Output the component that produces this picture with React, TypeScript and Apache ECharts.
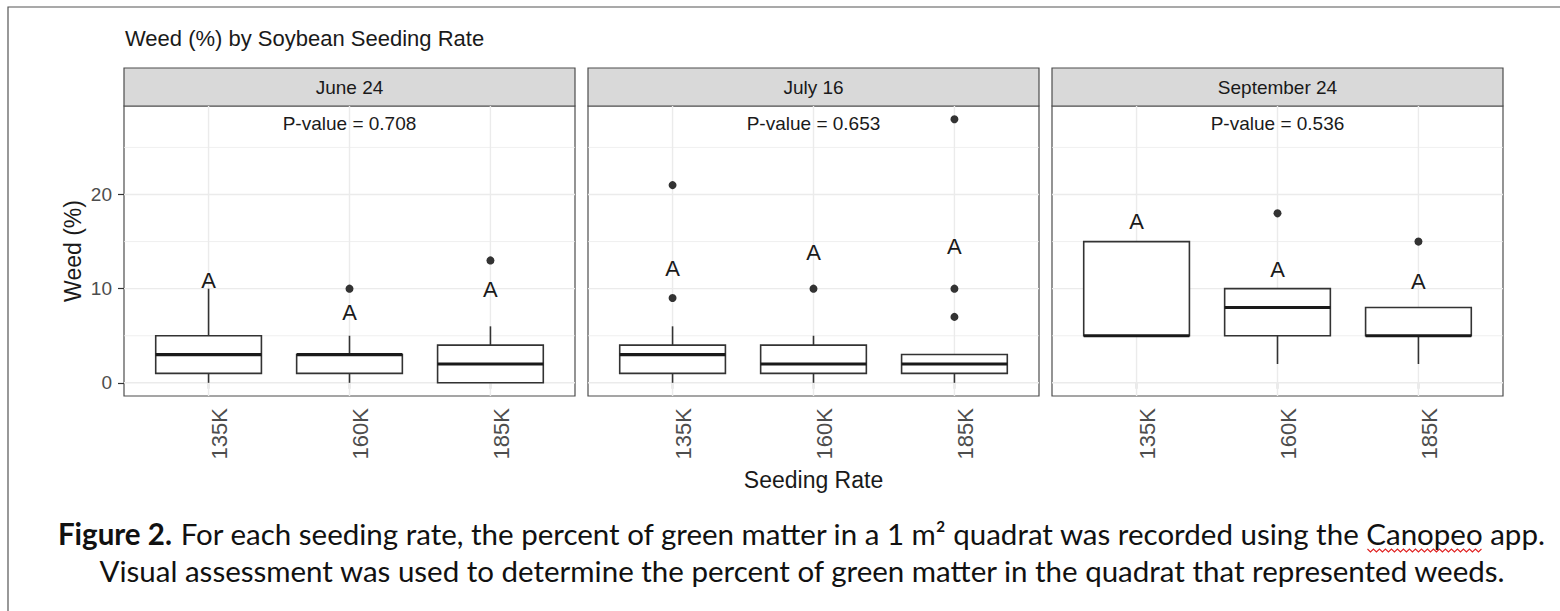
import React, { useEffect, useRef } from "react";
import * as echarts from "echarts";

// ---------------- data ----------------
const TITLE = "Weed (%) by Soybean Seeding Rate";
const PANEL_TITLES = ["June 24", "July 16", "September 24"];
const RATES = ["135K", "160K", "185K"];
const P_VALUES = ["0.708", "0.653", "0.536"];
const P_LABEL_Y = 27.5;
const Y_TICKS = [0, 10, 20];
const Y_MINOR = [5, 15, 25];
const Y_TITLE = "Weed (%)";
const X_TITLE = "Seeding Rate";

// [lower whisker, Q1, median, Q3, upper whisker]
const JUNE_BOXES = [
  [0, 1, 3, 5, 10],
  [0, 1, 3, 3, 5],
  [0, 0, 2, 4, 6],
];
const JULY_BOXES = [
  [0, 1, 3, 4, 6],
  [0, 1, 2, 4, 5],
  [0, 1, 2, 3, 3],
];
const SEPT_BOXES = [
  [5, 5, 5, 15, 15],
  [2, 5, 8, 10, 10],
  [2, 5, 5, 8, 8],
];

const JUNE_OUTLIERS = [[], [10], [13]];
const JULY_OUTLIERS = [[9, 21], [10], [7, 10, 28]];
const SEPT_OUTLIERS = [[], [18], [15]];

const JUNE_LETTERS = ["A", "A", "A"];
const JULY_LETTERS = ["A", "A", "A"];
const SEPT_LETTERS = ["A", "A", "A"];
const JUNE_LETTER_Y = [10.9, 7.5, 9.9];
const JULY_LETTER_Y = [12.1, 13.8, 14.5];
const SEPT_LETTER_Y = [17.1, 12.0, 10.8];

const CAPTION_BOLD = "Figure 2.";
const CAPTION_LINE1 =
  " For each seeding rate, the percent of green matter in a 1 m\u00B2 quadrat was recorded using the Canopeo app.";
const CAPTION_LINE2 =
  "Visual assessment was used to determine the percent of green matter in the quadrat that represented weeds.";
const MISSPELLED = "Canopeo";

// ---------------- layout / style ----------------
const FONT = "'Liberation Sans', Arial, sans-serif";
const CAP_FONT = "Lato, 'Open Sans', sans-serif";
const CAP_SIZE = 29.5;
const PANEL_LEFT = [124, 588, 1052];
const PANEL_W = 451;
const PANEL_TOP = 106;
const PANEL_BOTTOM = 396;
const STRIP_TOP = 68;
const X_MIN = 0.4;
const X_MAX = 3.6;
const Y_MIN = -1.4;
const Y_MAX = 29.4;
const BOX_WIDTH = 0.75;
const CAP_CX = 802;
const CAP_Y1 = 533;
const CAP_Y2 = 570;

const BOXES = [JUNE_BOXES, JULY_BOXES, SEPT_BOXES];
const OUTLIERS = [JUNE_OUTLIERS, JULY_OUTLIERS, SEPT_OUTLIERS];
const LETTERS = [JUNE_LETTERS, JULY_LETTERS, SEPT_LETTERS];
const LETTER_Y = [JUNE_LETTER_Y, JULY_LETTER_Y, SEPT_LETTER_Y];

const gridRender = (params: any, api: any) => {
  const cs = params.coordSys;
  const kind = api.value(0);
  const v = api.value(1);
  const major = api.value(2);
  const style = { stroke: "#ebebeb", lineWidth: major ? 1.4 : 0.8 };
  if (kind === 0) {
    const y = api.coord([2, v])[1];
    return { type: "line", silent: true, shape: { x1: cs.x, y1: y, x2: cs.x + cs.width, y2: y }, style };
  }
  const x = api.coord([v, 0])[0];
  return { type: "line", silent: true, shape: { x1: x, y1: cs.y, x2: x, y2: cs.y + cs.height }, style };
};

const boxRender = (params: any, api: any) => {
  const xv = api.value(0);
  const lo = api.value(1);
  const q1 = api.value(2);
  const med = api.value(3);
  const q3 = api.value(4);
  const hi = api.value(5);
  const cx = api.coord([xv, med])[0];
  const half = api.size([BOX_WIDTH, 0])[0] / 2;
  const y = (v: number) => api.coord([xv, v])[1];
  const stroke = "#333333";
  const children: any[] = [];
  if (hi > q3)
    children.push({ type: "line", shape: { x1: cx, y1: y(q3), x2: cx, y2: y(hi) }, style: { stroke, lineWidth: 1.6 } });
  if (lo < q1)
    children.push({ type: "line", shape: { x1: cx, y1: y(q1), x2: cx, y2: y(lo) }, style: { stroke, lineWidth: 1.6 } });
  children.push({
    type: "rect",
    shape: { x: cx - half, y: y(q3), width: 2 * half, height: y(q1) - y(q3) },
    style: { fill: "#ffffff", stroke, lineWidth: 1.6 },
  });
  children.push({
    type: "line",
    shape: { x1: cx - half, y1: y(med), x2: cx + half, y2: y(med) },
    style: { stroke: "#1a1a1a", lineWidth: 3.2 },
  });
  return { type: "group", children };
};

const textRender = (texts: string[], size: number) => (params: any, api: any) => {
  const p = api.coord([api.value(0), api.value(1)]);
  return {
    type: "text",
    x: p[0],
    y: p[1],
    style: {
      text: texts[api.value(2)],
      fontSize: size,
      fontFamily: FONT,
      fill: "#1a1a1a",
      align: "center",
      verticalAlign: "middle",
      textAlign: "center",
      textVerticalAlign: "middle",
    },
  };
};

export default function App() {
  const ref = useRef<HTMLDivElement>(null);

  useEffect(() => {
    if (!ref.current) return;
    const chart = echarts.init(ref.current, null, { renderer: "svg" });

    const grids = PANEL_LEFT.map((left) => ({
      left,
      top: PANEL_TOP,
      width: PANEL_W,
      height: PANEL_BOTTOM - PANEL_TOP,
      show: true,
      backgroundColor: "#ffffff",
      borderColor: "#4d4d4d",
      borderWidth: 1.2,
      containLabel: false,
      outerBoundsMode: "none",
    }));

    const xAxes = PANEL_LEFT.map((_, p) => ({
      gridIndex: p,
      type: "value",
      min: X_MIN,
      max: X_MAX,
      axisLine: { show: false },
      splitLine: { show: false },
      axisTick: { show: true, customValues: [1, 2, 3], length: 6, lineStyle: { color: "#333333", width: 1.2 } },
      axisLabel: {
        show: true,
        customValues: [1, 2, 3],
        formatter: (v: number) => RATES[Math.round(v) - 1] ?? "",
        rotate: 90,
        margin: 12,
        fontSize: 22,
        color: "#4d4d4d",
        fontFamily: FONT,
        align: "right",
        verticalAlign: "top",
      },
      name: p === 1 ? X_TITLE : "",
      nameLocation: "middle",
      nameGap: 72,
      nameMoveOverlap: false,
      nameTextStyle: { fontSize: 23, color: "#1a1a1a", fontFamily: FONT },
    }));

    const yAxes = PANEL_LEFT.map((_, p) => ({
      gridIndex: p,
      type: "value",
      min: Y_MIN,
      max: Y_MAX,
      axisLine: { show: false },
      splitLine: { show: false },
      axisTick: { show: p === 0, customValues: Y_TICKS, length: 6, lineStyle: { color: "#333333", width: 1.2 } },
      axisLabel: {
        show: p === 0,
        customValues: Y_TICKS,
        fontSize: 19,
        color: "#4d4d4d",
        margin: 12,
        fontFamily: FONT,
      },
      name: p === 0 ? Y_TITLE : "",
      nameLocation: "middle",
      nameGap: 40,
      nameMoveOverlap: false,
      nameTextStyle: { fontSize: 23, color: "#1a1a1a", fontFamily: FONT },
    }));

    const gridData = [
      ...Y_TICKS.map((v) => [0, v, 1]),
      ...Y_MINOR.map((v) => [0, v, 0]),
      ...RATES.map((_, i) => [1, i + 1, 1]),
    ];

    const series: any[] = [];
    PANEL_LEFT.forEach((_, p) => {
      series.push({
        type: "custom",
        xAxisIndex: p,
        yAxisIndex: p,
        z: 1,
        silent: true,
        renderItem: gridRender,
        data: gridData,
      });
      series.push({
        type: "custom",
        xAxisIndex: p,
        yAxisIndex: p,
        z: 3,
        renderItem: boxRender,
        data: BOXES[p].map((b, i) => [i + 1, ...b]),
      });
      series.push({
        type: "scatter",
        xAxisIndex: p,
        yAxisIndex: p,
        z: 4,
        symbol: "circle",
        symbolSize: 8,
        itemStyle: { color: "#333333", opacity: 1 },
        data: OUTLIERS[p].flatMap((vals, i) => vals.map((v) => [i + 1, v])),
      });
      series.push({
        type: "custom",
        xAxisIndex: p,
        yAxisIndex: p,
        z: 5,
        renderItem: textRender(LETTERS[p], 22),
        data: LETTER_Y[p].map((y, i) => [i + 1, y, i]),
      });
      series.push({
        type: "custom",
        xAxisIndex: p,
        yAxisIndex: p,
        z: 5,
        renderItem: textRender(["P-value = " + P_VALUES[p]], 19),
        data: [[2, P_LABEL_Y, 0]],
      });
    });

    // caption measurement for the spell-check squiggle
    const ctx = document.createElement("canvas").getContext("2d")!;
    const measure = (t: string, weight = "normal") => {
      ctx.font = `${weight} ${CAP_SIZE}px Lato`;
      return ctx.measureText(t).width;
    };
    const wBold = measure(CAPTION_BOLD, "bold");
    const wRest = measure(CAPTION_LINE1);
    const x0 = CAP_CX - (wBold + wRest) / 2;
    const pre = CAPTION_LINE1.slice(0, CAPTION_LINE1.indexOf(MISSPELLED));
    const sx = x0 + wBold + measure(pre);
    const ex = sx + measure(MISSPELLED);
    const squiggleY = CAP_Y1 + 16;
    const squiggle: number[][] = [];
    let k = 0;
    for (let x = sx; x <= ex; x += 3) {
      squiggle.push([x, squiggleY + (k % 2 === 0 ? 0 : 3)]);
      k++;
    }

    const graphic: any[] = [
      {
        type: "rect",
        silent: true,
        shape: { x: 8, y: 7, width: 1600, height: 700 },
        style: { fill: "none", stroke: "#555555", lineWidth: 1.2 },
      },
      {
        type: "text",
        x: 125,
        y: 38,
        style: {
          text: TITLE,
          fontSize: 22,
          fontFamily: FONT,
          fill: "#1a1a1a",
          align: "left",
          verticalAlign: "middle",
          textAlign: "left",
          textVerticalAlign: "middle",
        },
      },
      ...PANEL_LEFT.flatMap((left, p) => [
        {
          type: "rect",
          silent: true,
          shape: { x: left, y: STRIP_TOP, width: PANEL_W, height: PANEL_TOP - STRIP_TOP },
          style: { fill: "#d9d9d9", stroke: "#4d4d4d", lineWidth: 1.2 },
        },
        {
          type: "text",
          x: left + PANEL_W / 2,
          y: (STRIP_TOP + PANEL_TOP) / 2,
          style: {
            text: PANEL_TITLES[p],
            fontSize: 19,
            fontFamily: FONT,
            fill: "#1a1a1a",
            align: "center",
            verticalAlign: "middle",
            textAlign: "center",
            textVerticalAlign: "middle",
          },
        },
      ]),
      {
        type: "text",
        x: CAP_CX,
        y: CAP_Y1,
        style: {
          text: "{b|" + CAPTION_BOLD + "}" + CAPTION_LINE1,
          rich: { b: { fontWeight: "bold", fontSize: CAP_SIZE, fontFamily: CAP_FONT, fill: "#111111" } },
          fontSize: CAP_SIZE,
          fontFamily: CAP_FONT,
          fill: "#111111",
          align: "center",
          verticalAlign: "middle",
          textAlign: "center",
          textVerticalAlign: "middle",
        },
      },
      {
        type: "text",
        x: CAP_CX,
        y: CAP_Y2,
        style: {
          text: CAPTION_LINE2,
          fontSize: CAP_SIZE,
          fontFamily: CAP_FONT,
          fill: "#111111",
          align: "center",
          verticalAlign: "middle",
          textAlign: "center",
          textVerticalAlign: "middle",
        },
      },
      {
        type: "polyline",
        silent: true,
        shape: { points: squiggle },
        style: { stroke: "#e02020", lineWidth: 1.1, fill: "none" },
      },
    ];

    chart.setOption({
      animation: false,
      backgroundColor: "#ffffff",
      grid: grids,
      xAxis: xAxes,
      yAxis: yAxes,
      series,
      graphic,
    });

    return () => chart.dispose();
  }, []);

  return (
    <div
      ref={ref}
      style={{ position: "fixed", left: 0, top: 0, width: 1560, height: 611, background: "#fff" }}
    />
  );
}
